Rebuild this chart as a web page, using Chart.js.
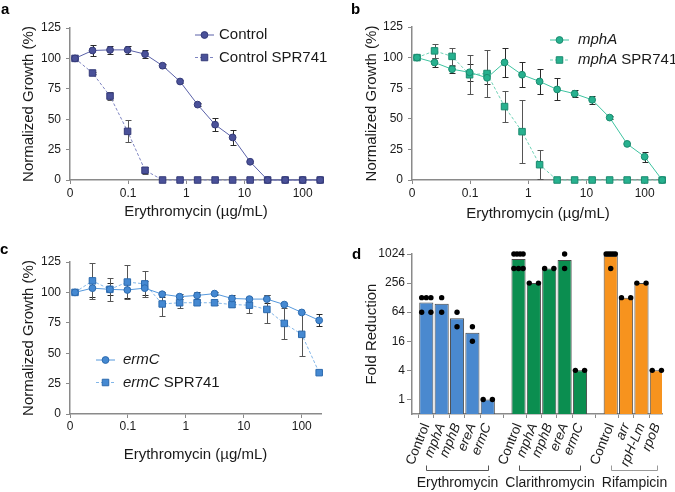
<!DOCTYPE html>
<html><head><meta charset="utf-8">
<script src="https://cdn.jsdelivr.net/npm/chart.js@4.4.1/dist/chart.umd.min.js"></script>
<style>
html,body{margin:0;padding:0;background:#fff;}
#wrap{position:relative;width:675px;height:492px;overflow:hidden;font-family:"Liberation Sans",Arial,sans-serif;}
canvas{position:absolute;}
.lbl{position:absolute;font-weight:bold;font-size:15px;line-height:15px;color:#000;}
</style></head><body>
<div id="wrap">
<canvas id="ca" width="337" height="240" style="left:0;top:0"></canvas>
<canvas id="cb" width="338" height="240" style="left:337px;top:0"></canvas>
<canvas id="cc" width="337" height="252" style="left:0;top:240px"></canvas>
<canvas id="cd" width="338" height="252" style="left:337px;top:240px"></canvas>
<div class="lbl" style="left:1px;top:1px">a</div>
<div class="lbl" style="left:351px;top:1px">b</div>
<div class="lbl" style="left:0px;top:241px">c</div>
<div class="lbl" style="left:352px;top:246px">d</div>
</div>
<script>
// ---------------- DATA ----------------
const concentrations = [0.0122,0.0244,0.0488,0.0977,0.195,0.39,0.78,1.5625,3.125,6.25,12.5,25,50,100,200];
const xTickValues = [0.01,0.1,1,10,100];
const xTickLabels = ['0','0.1','1','10','100'];

const controlGrowth    = [100,106.5,107,107,103.5,94,81,62,45.5,35,15,0,0,0,0];
const controlErr       = [0,4.5,3,3,3,1.5,1,1.5,5.5,6.5,1,0,0,0,0];
const controlSprGrowth = [100,88,69,40,8,0,0,0,0,0,0,0,0,0,0];
const controlSprErr    = [0,1,3,9,3,0,0,0,0,0,0,0,0,0,0];

const mphAGrowth    = [100,96,90.5,88,83.5,96,86,80.5,74,70.5,65.5,51,29.5,19,0];
const mphAErr       = [0,3.5,3,7,5,12,10,10,9,3,3,1,1,4,0];
const mphASprGrowth = [100,105.5,101,86,87,60,39.5,12.5,0,0,0,0,0,0,0];
const mphASprErr    = [0,5.5,7,16,19.5,12.5,26,12,0,0,0,0,0,0,0];

const ermCGrowth    = [100,103.5,102.5,102,103.5,98.5,96.5,97.5,99,95,94.5,94.5,90,83.5,77];
const ermCErr       = [0,7,5,7,6,2,2,3,1,3,2,3,1,0,5];
const ermCSprGrowth = [100,109.5,102.5,108.5,107,90.5,91.5,91.5,91.5,90,89.5,86,74.5,65.5,34];
const ermCSprErr    = [0,15,9.5,14,10.5,9.5,4.5,2,1.5,2,6.5,11.5,12.5,18,1];

const groupNames = ['Erythromycin','Clarithromycin','Rifampicin'];
const groupSizes = [5,5,4];
const foldLabels = ['Control','mphA','mphB','ereA','ermC','Control','mphA','mphB','ereA','ermC','Control','arr','rpH-Lm','rpoB'];
const foldBars = [102,96,48,24,1, 804,256,512,768,4, 939,128,256,4];
const foldReplicates = [[128,128,128,64,64],[128,64],[64,32],[32,16],[1,1],
  [1024,1024,1024,1024,512,512,512],[256,256],[512,512],[1024,512],[4,4],
  [1024,1024,1024,1024,1024,512],[128,128],[256,256],[4,4]];
const foldTicks = [1,4,16,64,256,1024];

// ---------------- STYLE ----------------
const FONT = "'Liberation Sans', Arial, sans-serif";
Chart.defaults.font.family = FONT;
Chart.defaults.color = '#1a1a1a';
const AXIS = '#8a8a8a';
const groupColors = ['#4a89cf','#0b8e50','#f7931e'];

function drawMarker(ctx, style, x, y, r, fill, stroke) {
  ctx.save();
  ctx.fillStyle = fill; ctx.strokeStyle = stroke; ctx.lineWidth = 1;
  ctx.beginPath();
  if (style === 'rect') { const s = r * Math.SQRT1_2; ctx.rect(x - s, y - s, 2 * s, 2 * s); }
  else ctx.arc(x, y, r, 0, Math.PI * 2);
  ctx.fill(); ctx.stroke();
  ctx.restore();
}

const errorBarsPlugin = {
  id: 'errorBars',
  beforeDatasetsDraw(chart) {
    const {ctx} = chart; const xs = chart.scales.x, ys = chart.scales.y;
    chart.data.datasets.forEach(ds => {
      if (!ds.errors) return;
      ctx.save(); ctx.strokeStyle = ds.errorColor; ctx.lineWidth = 1;
      ds.data.forEach((p, i) => {
        const e = ds.errors[i]; if (!e) return;
        const px = Math.round(xs.getPixelForValue(p.x)) + 0.5;
        const top = Math.round(ys.getPixelForValue(p.y + e)) + 0.5;
        const bot = Math.round(ys.getPixelForValue(Math.max(p.y - e, 0))) + 0.5;
        ctx.beginPath();
        ctx.moveTo(px, top); ctx.lineTo(px, bot);
        ctx.moveTo(px - 3, top); ctx.lineTo(px + 3, top);
        ctx.moveTo(px - 3, bot); ctx.lineTo(px + 3, bot);
        ctx.stroke();
      });
      ctx.restore();
    });
  }
};

function makeLegend(cfg) {
  return {
    id: 'inlineLegend',
    afterDatasetsDraw(chart) {
      const ctx = chart.ctx;
      cfg.items.forEach((it, k) => {
        const ds = chart.data.datasets[it.dataset];
        const y = cfg.y + k * cfg.dy;
        ctx.save();
        ctx.strokeStyle = ds.borderColor; ctx.lineWidth = ds.borderWidth;
        ctx.setLineDash(ds.borderDash || []);
        ctx.beginPath(); ctx.moveTo(cfg.x, y); ctx.lineTo(cfg.x + cfg.len, y); ctx.stroke();
        ctx.setLineDash([]);
        drawMarker(ctx, ds.pointStyle, cfg.x + cfg.len / 2, y, ds.pointRadius, ds.pointBackgroundColor, ds.pointBorderColor);
        let tx = cfg.x + cfg.len + cfg.gap;
        ctx.fillStyle = '#1a1a1a'; ctx.textBaseline = 'middle'; ctx.textAlign = 'left';
        it.text.forEach(([t, italic]) => {
          ctx.font = (italic ? 'italic ' : '') + cfg.size + 'px ' + FONT;
          ctx.fillText(t, tx, y); tx += ctx.measureText(t).width;
        });
        ctx.restore();
      });
    }
  };
}

function series(values, errors, style, dashed, col) {
  return {
    data: concentrations.map((c, i) => ({x: c, y: values[i]})),
    errors: errors,
    errorColor: dashed ? '#555' : '#2a2a2a',
    borderColor: dashed ? col.dash : col.line,
    borderWidth: 1,
    borderDash: dashed ? [3, 2] : [],
    pointStyle: style,
    pointRadius: style === 'rect' ? 4.6 : 3.4,
    pointBackgroundColor: col.fill,
    pointBorderColor: col.border,
    pointBorderWidth: 1,
    tension: 0,
    clip: false
  };
}

function growthChart(id, datasets, geo, legendCfg) {
  return new Chart(document.getElementById(id), {
    type: 'line',
    data: {datasets},
    plugins: [errorBarsPlugin, makeLegend(legendCfg)],
    options: {
      responsive: false, animation: false, devicePixelRatio: 1,
      layout: {padding: {left: 0, top: geo.top, right: geo.right, bottom: 0}},
      plugins: {legend: {display: false}, tooltip: {enabled: false}},
      scales: {
        x: {
          type: 'logarithmic', min: 0.01, max: 215,
          afterBuildTicks: s => { s.ticks = xTickValues.map(v => ({value: v})); },
          afterFit: s => { s.height = geo.xh; },
          ticks: {callback: (v) => xTickLabels[xTickValues.indexOf(v)], font: {size: 12}, padding: geo.xtp, maxRotation: 0, autoSkip: false},
          grid: {display: true, drawOnChartArea: false, drawTicks: true, tickLength: 4, color: AXIS, lineWidth: 1},
          border: {display: true, color: AXIS, width: 1.5},
          title: {display: true, text: 'Erythromycin (µg/mL)', font: {size: 15}, padding: {top: 0, bottom: geo.xtb}}
        },
        y: {
          type: 'linear', min: 0, max: 125,
          afterFit: s => { s.width = geo.left; },
          ticks: {stepSize: 25, font: {size: 12}, padding: 5},
          grid: {display: true, drawOnChartArea: false, drawTicks: true, tickLength: 4, color: AXIS, lineWidth: 1},
          border: {display: true, color: AXIS, width: 1.5},
          title: {display: true, text: 'Normalized Growth (%)', font: {size: 15}, padding: {top: geo.ytp, bottom: 0}}
        }
      }
    }
  });
}

const colA = {fill: '#4a5199', line: '#5a61a8', dash: '#7f85c2', border: '#343a78'};
const colB = {fill: '#27b18f', line: '#3ec3a0', dash: '#6fd2b6', border: '#1a8a6e'};
const colC = {fill: '#4589d2', line: '#5598dc', dash: '#82b6e8', border: '#2c6aae'};

growthChart('ca', [
  series(controlGrowth, controlErr, 'circle', false, colA),
  series(controlSprGrowth, controlSprErr, 'rect', true, colA)
], {top: 28, right: 15, left: 70, xh: 60, xtp: 2, xtb: 19, ytp: 20},
{x: 195, y: 35, dy: 22.5, len: 19, gap: 5, size: 15, items: [
  {dataset: 0, text: [['Control', false]]},
  {dataset: 1, text: [['Control SPR741', false]]}]});

growthChart('cb', [
  series(mphAGrowth, mphAErr, 'circle', false, colB),
  series(mphASprGrowth, mphASprErr, 'rect', true, colB)
], {top: 27, right: 11, left: 75, xh: 60, xtp: 2, xtb: 17, ytp: 25.7},
{x: 213, y: 40, dy: 20, len: 19, gap: 9, size: 15, items: [
  {dataset: 0, text: [['mphA', true]]},
  {dataset: 1, text: [['mphA', true], [' SPR741', false]]}]});

growthChart('cc', [
  series(ermCGrowth, ermCErr, 'circle', false, colC),
  series(ermCSprGrowth, ermCSprErr, 'rect', true, colC)
], {top: 22, right: 16, left: 70, xh: 78, xtp: 1, xtb: 28, ytp: 20},
{x: 96, y: 120, dy: 22.5, len: 19, gap: 8, size: 15, items: [
  {dataset: 0, text: [['ermC', true]]},
  {dataset: 1, text: [['ermC', true], [' SPR741', false]]}]});

// ---------------- PANEL D ----------------
const slotPositions = [];
const slotGroup = [];
(function () { let s = 0; groupSizes.forEach((n, g) => { for (let k = 0; k < n; k++) { slotPositions.push(s + k); slotGroup.push(g); } s += n + 1; }); })();

const dotData = [];
foldReplicates.forEach((reps, i) => {
  const counts = {};
  reps.forEach(v => { counts[v] = (counts[v] || 0) + 1; });
  Object.keys(counts).forEach(key => {
    const n = counts[key];
    for (let k = 0; k < n; k++) {
      const off = n === 1 ? 0 : -0.3 + k * 0.6 / (n - 1);
      dotData.push({x: slotPositions[i] + off, y: Number(key)});
    }
  });
});

const bracketPlugin = {
  id: 'brackets',
  afterDraw(chart) {
    const {ctx} = chart; const xs = chart.scales.x;
    let start = 0;
    groupSizes.forEach((n, g) => {
      const x0 = Math.round(xs.getPixelForValue(slotPositions[start])) + 0.5;
      const x1 = Math.round(xs.getPixelForValue(slotPositions[start + n - 1])) + 0.5;
      const y = 230.5;
      ctx.save();
      ctx.strokeStyle = g === 2 ? '#9a9a9a' : '#555'; ctx.lineWidth = 1;
      ctx.beginPath(); ctx.moveTo(x0, y - 5); ctx.lineTo(x0, y); ctx.lineTo(x1, y); ctx.lineTo(x1, y - 5); ctx.stroke();
      ctx.fillStyle = '#1a1a1a'; ctx.font = '14px ' + FONT; ctx.textAlign = 'center'; ctx.textBaseline = 'middle';
      ctx.fillText(groupNames[g], (x0 + x1) / 2, 243);
      ctx.restore();
      start += n;
    });
  }
};

new Chart(document.getElementById('cd'), {
  type: 'bar',
  data: {datasets: [
    {type: 'scatter', data: dotData, pointRadius: 2.7, pointBackgroundColor: '#000', pointBorderColor: '#000', pointBorderWidth: 0, order: 0, clip: false},
    {type: 'bar', data: slotPositions.map((p, i) => ({x: p, y: foldBars[i]})),
     backgroundColor: slotGroup.map(g => groupColors[g]), borderColor: '#4a4a4a', borderWidth: 1,
     categoryPercentage: 1, barPercentage: 0.92, order: 1}
  ]},
  plugins: [bracketPlugin],
  options: {
    responsive: false, animation: false, devicePixelRatio: 1,
    layout: {padding: {left: 0, top: 14, right: 7, bottom: 0}},
    plugins: {legend: {display: false}, tooltip: {enabled: false}},
    scales: {
      x: {
        type: 'linear', min: -0.93, max: 15.34, offset: false,
        afterBuildTicks: s => { s.ticks = slotPositions.map(v => ({value: v})); },
        afterFit: s => { s.height = 78; },
        ticks: {
          callback: (v, i) => foldLabels[i], autoSkip: false, minRotation: 68, maxRotation: 68, padding: 3,
          font: c => ({size: 13.5, style: foldLabels[c.index] === 'Control' ? 'normal' : 'italic'})
        },
        grid: {display: true, drawOnChartArea: false, drawTicks: true, tickLength: 4, color: AXIS, lineWidth: 1},
        border: {display: true, color: AXIS, width: 1.5}
      },
      y: {
        type: 'logarithmic', min: 0.5, max: 1024,
        afterBuildTicks: s => { s.ticks = foldTicks.map(v => ({value: v})); },
        afterFit: s => { s.width = 75; },
        ticks: {callback: v => String(v), font: {size: 12}, padding: 2},
        grid: {display: true, drawOnChartArea: false, drawTicks: true, tickLength: 5, color: AXIS, lineWidth: 1},
        border: {display: true, color: AXIS, width: 1.5},
        title: {display: true, text: 'Fold Reduction', font: {size: 15}, padding: {top: 25.7, bottom: 0}}
      }
    }
  }
});
</script>
</body></html>
